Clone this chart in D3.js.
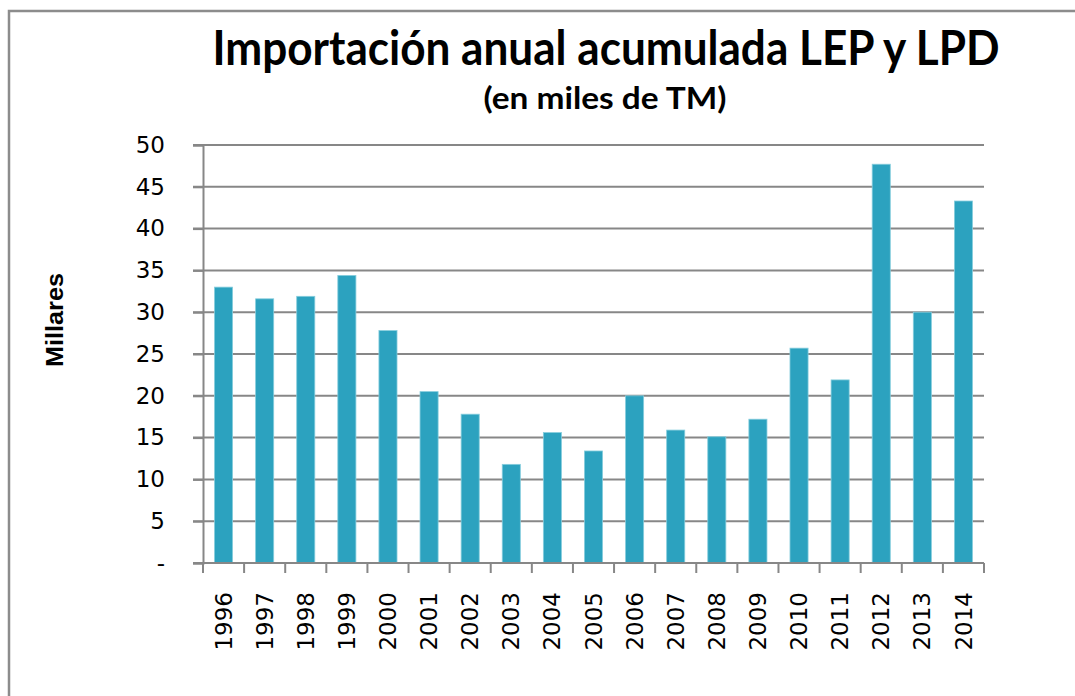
<!DOCTYPE html>
<html>
<head>
<meta charset="utf-8">
<script src="https://cdn.jsdelivr.net/npm/d3@7"></script>
<style>
    body { margin: 0; background: #fff; }
    .chart-title { font-family: Lato, "Open Sans", sans-serif; font-weight: bold; fill: #000; }
    .tick-label { font-family: "DejaVu Sans", sans-serif; font-size: 23px; fill: #000; }
    .axis-title { font-family: "Liberation Sans", Arial, sans-serif; font-weight: bold; font-size: 24px; fill: #000; }
</style>
</head>
<body>
<div id="chart"></div>
<script>

// data (thousands of TM)
var years = ["1996", "1997", "1998", "1999", "2000", "2001", "2002", "2003", "2004", "2005",
    "2006", "2007", "2008", "2009", "2010", "2011", "2012", "2013", "2014"];
var imports = [33.0, 31.6, 31.9, 34.4, 27.8, 20.5, 17.8, 11.8, 15.6, 13.4,
    20.0, 15.9, 15.1, 17.2, 25.7, 21.9, 47.7, 30.0, 43.3];
var yTicks = [0, 5, 10, 15, 20, 25, 30, 35, 40, 45, 50];

var titleText = "Importación anual acumulada LEP y LPD";
var subtitleText = "(en miles de TM)";
var yAxisText = "Millares";


BarChart = function(_parentElement){
    this.parentElement = _parentElement;
    this.initVis();
}


/*
 * SVG area, frame and titles
 */

BarChart.prototype.initVis = function(){
    var vis = this;

    vis.margin = { top: 145, right: 91, bottom: 133, left: 203 };
    vis.fullWidth = 1075;
    vis.fullHeight = 696;
    vis.width = vis.fullWidth - vis.margin.left - vis.margin.right;
    vis.height = vis.fullHeight - vis.margin.top - vis.margin.bottom;

    vis.root = d3.select("#" + vis.parentElement).append("svg")
        .attr("width", vis.fullWidth)
        .attr("height", vis.fullHeight);

    // chart frame, only left and top edges visible
    vis.root.append("path")
        .attr("d", "M9," + (vis.fullHeight + 5) + "V11H" + (vis.fullWidth + 5))
        .attr("fill", "none")
        .attr("stroke", "#8c8c8c")
        .attr("stroke-width", 2.5);

    vis.root.append("text")
        .attr("class", "chart-title")
        .attr("x", 606)
        .attr("y", 65)
        .attr("text-anchor", "middle")
        .attr("font-size", 48)
        .attr("textLength", 787)
        .attr("lengthAdjust", "spacingAndGlyphs")
        .text(titleText);

    vis.root.append("text")
        .attr("class", "chart-title")
        .attr("x", 605)
        .attr("y", 109)
        .attr("text-anchor", "middle")
        .attr("font-size", 31)
        .attr("textLength", 243)
        .attr("lengthAdjust", "spacingAndGlyphs")
        .text(subtitleText);

    vis.root.append("text")
        .attr("class", "axis-title")
        .attr("transform", "translate(63,320) rotate(-90)")
        .attr("text-anchor", "middle")
        .attr("textLength", 94)
        .attr("lengthAdjust", "spacingAndGlyphs")
        .text(yAxisText);

    vis.svg = vis.root.append("g")
        .attr("transform", "translate(" + vis.margin.left + "," + vis.margin.top + ")");

    vis.x = d3.scaleBand()
        .domain(years)
        .range([0, vis.width])
        .paddingInner(0.56)
        .paddingOuter(0.28);

    vis.y = d3.scaleLinear()
        .domain([0, 50])
        .range([vis.height, 0]);

    vis.updateVis();
}


/*
 * The drawing function
 */

BarChart.prototype.updateVis = function(){
    var vis = this;

    // gridlines
    vis.svg.selectAll(".grid")
        .data(yTicks)
        .enter()
        .append("line")
        .attr("class", "grid")
        .attr("x1", -10)
        .attr("x2", vis.width)
        .attr("y1", function(d) { return vis.y(d); })
        .attr("y2", function(d) { return vis.y(d); })
        .attr("stroke", "#878787")
        .attr("stroke-width", 2);

    // y axis
    var yAxis = d3.axisLeft(vis.y)
        .tickValues(yTicks)
        .tickSize(10)
        .tickPadding(28)
        .tickFormat(function(d) { return d === 0 ? "-" : d; });

    var yG = vis.svg.append("g").call(yAxis);
    yG.select(".domain").attr("stroke", "#878787").attr("stroke-width", 2);
    yG.selectAll(".tick line").attr("stroke", "#878787").attr("stroke-width", 2);
    yG.selectAll(".tick text").attr("class", "tick-label").attr("font-size", null).attr("font-family", null);

    // bars
    vis.svg.selectAll(".bar")
        .data(imports)
        .enter()
        .append("rect")
        .attr("class", "bar")
        .attr("x", function(d, i) { return vis.x(years[i]); })
        .attr("y", function(d) { return vis.y(d); })
        .attr("width", vis.x.bandwidth())
        .attr("height", function(d) { return vis.height - vis.y(d); })
        .attr("fill", "#2ca2bf")
        .attr("stroke", "#86cddd")
        .attr("stroke-width", 0.8);

    // x axis: ticks sit between categories
    var step = vis.x.step();
    var bounds = d3.range(years.length + 1).map(function(i) { return i * step; });

    vis.svg.append("line")
        .attr("x1", 0)
        .attr("x2", vis.width)
        .attr("y1", vis.height)
        .attr("y2", vis.height)
        .attr("stroke", "#878787")
        .attr("stroke-width", 2);

    vis.svg.selectAll(".xtick")
        .data(bounds)
        .enter()
        .append("line")
        .attr("class", "xtick")
        .attr("x1", function(d) { return d; })
        .attr("x2", function(d) { return d; })
        .attr("y1", vis.height)
        .attr("y2", vis.height + 10)
        .attr("stroke", "#878787")
        .attr("stroke-width", 2);

    vis.svg.selectAll(".xlabel")
        .data(years)
        .enter()
        .append("text")
        .attr("class", "tick-label")
        .attr("text-anchor", "end")
        .attr("dy", "0.35em")
        .attr("transform", function(d) {
            return "translate(" + (vis.x(d) + vis.x.bandwidth() / 2) + "," + (vis.height + 29) + ") rotate(-90)";
        })
        .text(function(d) { return d; });
}

new BarChart("chart");

</script>
</body>
</html>
